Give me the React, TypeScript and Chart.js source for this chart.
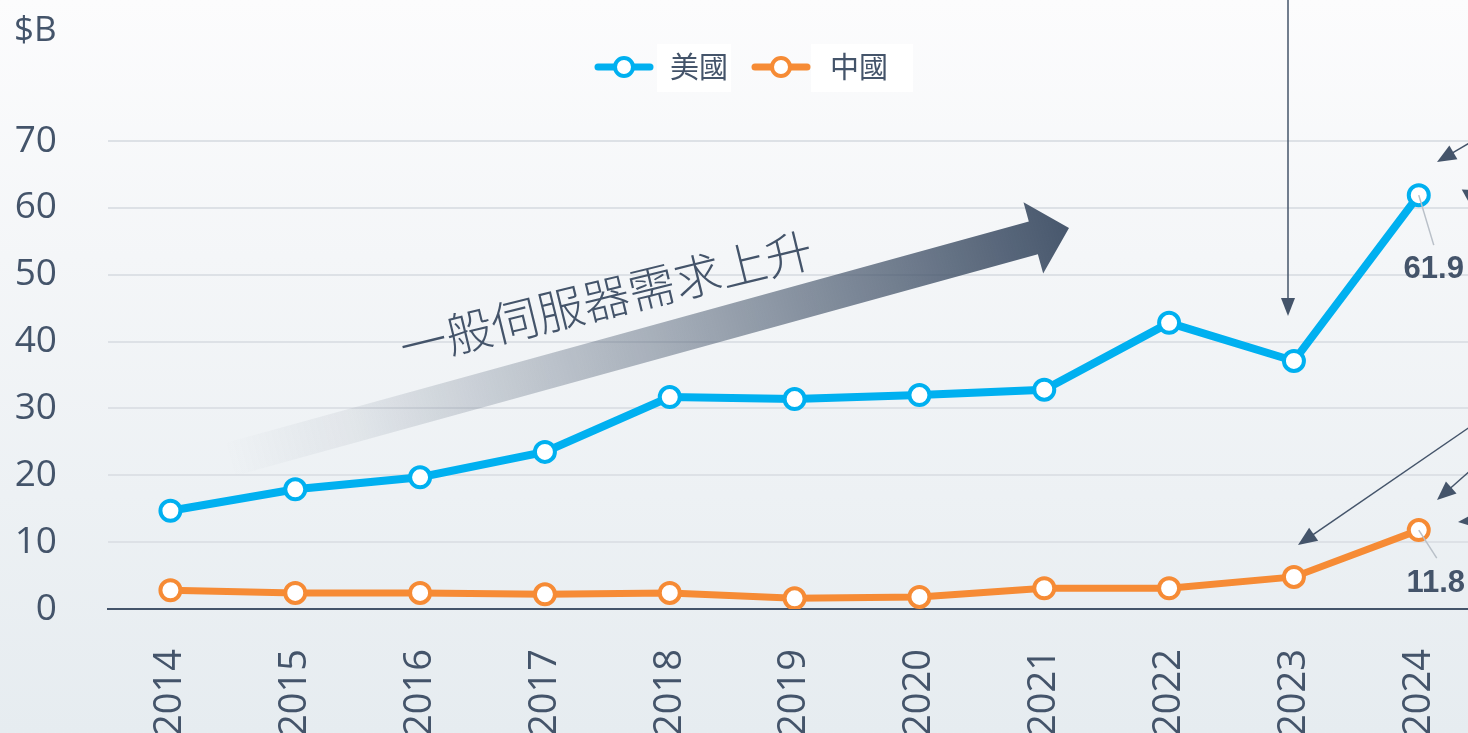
import React, { useEffect, useRef } from 'react';
import { Chart, registerables } from 'chart.js';

Chart.register(...registerables);

const years = ['2014', '2015', '2016', '2017', '2018', '2019', '2020', '2021', '2022', '2023', '2024'];
const usValues = [14.7, 17.9, 19.7, 23.5, 31.7, 31.4, 32.0, 32.8, 42.8, 37.1, 61.9];
const cnValues = [2.8, 2.4, 2.4, 2.2, 2.4, 1.6, 1.8, 3.1, 3.1, 4.8, 11.8];
const seriesNames = ['美國', '中國'];
const seriesColors = ['#00b0f0', '#f68b35'];
const yTicks = [0, 10, 20, 30, 40, 50, 60, 70];
const unitLabel = '$B';
const trendLabel = '一般伺服器需求上升';

const TEXT = '#44546a';
const CANVAS_W = 1505;
const CANVAS_H = 760;

function drawArrow(ctx: CanvasRenderingContext2D, x1: number, y1: number, x2: number, y2: number, headLen = 19, headHalf = 8) {
  const dx = x2 - x1;
  const dy = y2 - y1;
  const len = Math.hypot(dx, dy);
  const ux = dx / len;
  const uy = dy / len;
  const bx = x2 - ux * headLen;
  const by = y2 - uy * headLen;
  ctx.save();
  ctx.strokeStyle = TEXT;
  ctx.fillStyle = TEXT;
  ctx.lineWidth = 1.5;
  ctx.beginPath();
  ctx.moveTo(x1, y1);
  ctx.lineTo(bx + ux * 2, by + uy * 2);
  ctx.stroke();
  ctx.beginPath();
  ctx.moveTo(x2, y2);
  ctx.lineTo(bx - uy * headHalf, by + ux * headHalf);
  ctx.lineTo(bx + uy * headHalf, by - ux * headHalf);
  ctx.closePath();
  ctx.fill();
  ctx.restore();
}

const overlayPlugin = {
  id: 'overlay',
  beforeDatasetsDraw(chart: any) {
    const ctx: CanvasRenderingContext2D = chart.ctx;
    // big gradient trend arrow
    const T = { x: 228, y: 460 };
    const P = { x: 1069, y: 228 };
    const dx = P.x - T.x;
    const dy = P.y - T.y;
    const L = Math.hypot(dx, dy);
    const d = { x: dx / L, y: dy / L };
    const n = { x: -d.y, y: d.x };
    const headLen = 37;
    const shaftHalf = 17;
    const headHalf = 37;
    const B = { x: P.x - d.x * headLen, y: P.y - d.y * headLen };
    ctx.save();
    const g = ctx.createLinearGradient(T.x, T.y, P.x, P.y);
    g.addColorStop(0, 'rgba(68,84,106,0)');
    g.addColorStop(0.15, 'rgba(68,84,106,0.08)');
    g.addColorStop(0.5, 'rgba(68,84,106,0.42)');
    g.addColorStop(0.8, 'rgba(68,84,106,0.75)');
    g.addColorStop(1, 'rgba(68,84,106,0.98)');
    ctx.fillStyle = g;
    ctx.beginPath();
    ctx.moveTo(T.x + n.x * shaftHalf, T.y + n.y * shaftHalf);
    ctx.lineTo(B.x + n.x * shaftHalf, B.y + n.y * shaftHalf);
    ctx.lineTo(B.x + n.x * headHalf, B.y + n.y * headHalf);
    ctx.lineTo(P.x, P.y);
    ctx.lineTo(B.x - n.x * headHalf, B.y - n.y * headHalf);
    ctx.lineTo(B.x - n.x * shaftHalf, B.y - n.y * shaftHalf);
    ctx.lineTo(T.x - n.x * shaftHalf, T.y - n.y * shaftHalf);
    ctx.closePath();
    ctx.fill();

    // trend text
    ctx.translate(606, 298);
    ctx.rotate((-13.7 * Math.PI) / 180);
    ctx.font = '300 47px "Noto Sans CJK TC"';
    ctx.fillStyle = TEXT;
    ctx.textAlign = 'center';
    ctx.textBaseline = 'middle';
    ctx.fillText(trendLabel, 0, 0);
    ctx.restore();
  },
  afterDraw(chart: any) {
    const ctx: CanvasRenderingContext2D = chart.ctx;
    ctx.save();
    // unit label
    ctx.font = '35px "Open Sans"';
    ctx.fillStyle = TEXT;
    ctx.textAlign = 'left';
    ctx.textBaseline = 'alphabetic';
    ctx.fillText(unitLabel, 14, 41);

    // value labels on last points
    const offsets = [
      { lx: 15, ly: 50, tx: 15, ty: 74 },
      { lx: 18, ly: 28, tx: 17, ty: 53 },
    ];
    chart.data.datasets.forEach((ds: any, i: number) => {
      const meta = chart.getDatasetMeta(i);
      const last = meta.data[meta.data.length - 1];
      const v = ds.data[ds.data.length - 1];
      const o = offsets[i];
      ctx.strokeStyle = '#b9c0c8';
      ctx.lineWidth = 1.5;
      ctx.beginPath();
      ctx.moveTo(last.x, last.y);
      ctx.lineTo(last.x + o.lx, last.y + o.ly);
      ctx.stroke();
      ctx.font = 'bold 31px "Liberation Sans"';
      ctx.fillStyle = TEXT;
      ctx.textAlign = 'center';
      ctx.textBaseline = 'middle';
      ctx.fillText(v.toFixed(1), last.x + o.tx, last.y + o.ty);
    });

    // annotation arrows
    drawArrow(ctx, 1288, -5, 1288, 316, 18, 7);
    drawArrow(ctx, 1495, 128, 1437, 162);
    drawArrow(ctx, 1476, 110, 1472, 208, 18, 11);
    drawArrow(ctx, 1480, 420, 1298, 545);
    drawArrow(ctx, 1480, 462, 1437, 500);
    drawArrow(ctx, 1530, 515, 1458, 522);

    // legend
    const items = [
      { lineX: 595, circleX: 624, boxX: 657, boxW: 74, textX: 670 },
      { lineX: 752, circleX: 781, boxX: 811, boxW: 102, textX: 830 },
    ];
    const ly = 67;
    chart.data.datasets.forEach((ds: any, i: number) => {
      const it = items[i];
      ctx.strokeStyle = ds.borderColor;
      ctx.lineWidth = 7;
      ctx.lineCap = 'round';
      ctx.beginPath();
      ctx.moveTo(it.lineX + 3, ly);
      ctx.lineTo(it.lineX + 55, ly);
      ctx.stroke();
      ctx.beginPath();
      ctx.arc(it.circleX, ly, 9, 0, Math.PI * 2);
      ctx.fillStyle = '#ffffff';
      ctx.fill();
      ctx.lineWidth = 4;
      ctx.stroke();
      ctx.fillStyle = '#ffffff';
      ctx.fillRect(it.boxX, 44, it.boxW, 48);
      ctx.font = '29px "Noto Sans CJK TC"';
      ctx.fillStyle = TEXT;
      ctx.textAlign = 'left';
      ctx.textBaseline = 'middle';
      ctx.fillText(ds.label, it.textX, ly);
    });
    ctx.restore();
  },
};

export default function App() {
  const canvasRef = useRef<HTMLCanvasElement | null>(null);

  useEffect(() => {
    if (!canvasRef.current) return;
    const chart = new Chart(canvasRef.current, {
      type: 'line',
      data: {
        labels: years,
        datasets: [
          {
            label: seriesNames[0],
            data: usValues,
            borderColor: seriesColors[0],
            backgroundColor: '#ffffff',
            borderWidth: 8,
            pointRadius: 10,
            pointBorderWidth: 4,
            pointBackgroundColor: '#ffffff',
            pointBorderColor: seriesColors[0],
            tension: 0,
          },
          {
            label: seriesNames[1],
            data: cnValues,
            borderColor: seriesColors[1],
            backgroundColor: '#ffffff',
            borderWidth: 7,
            pointRadius: 10,
            pointBorderWidth: 4,
            pointBackgroundColor: '#ffffff',
            pointBorderColor: seriesColors[1],
            tension: 0,
          },
        ],
      },
      options: {
        responsive: false,
        animation: false,
        layout: { padding: { top: 141, right: 0, bottom: 0, left: 0 } },
        plugins: {
          legend: { display: false },
          tooltip: { enabled: false },
        },
        scales: {
          x: {
            type: 'category',
            offset: true,
            grid: { display: false, drawTicks: false },
            border: { display: true, color: TEXT, width: 2 },
            ticks: {
              minRotation: 90,
              maxRotation: 90,
              padding: 40,
              color: TEXT,
              font: { family: '"Open Sans"', size: 38 },
            },
            afterFit(scale: any) {
              scale.height = CANVAS_H - 609;
            },
          },
          y: {
            min: 0,
            max: 70,
            afterBuildTicks(scale: any) {
              scale.ticks = yTicks.map((v) => ({ value: v }));
            },
            grid: { color: '#dde1e6', lineWidth: 2, drawTicks: false },
            border: { display: false },
            ticks: {
              padding: 51,
              color: TEXT,
              font: { family: '"Open Sans"', size: 37 },
            },
            afterFit(scale: any) {
              scale.width = 108;
            },
          },
        },
      },
      plugins: [overlayPlugin],
    });
    return () => chart.destroy();
  }, []);

  return (
    <div
      style={{
        position: 'fixed',
        left: 0,
        top: 0,
        width: 1468,
        height: 733,
        overflow: 'hidden',
        background: 'linear-gradient(to bottom, #fcfcfd 0%, #f4f6f8 35%, #e6ecf0 100%)',
      }}
    >
      <canvas ref={canvasRef} width={CANVAS_W} height={CANVAS_H} style={{ display: 'block' }} />
    </div>
  );
}
